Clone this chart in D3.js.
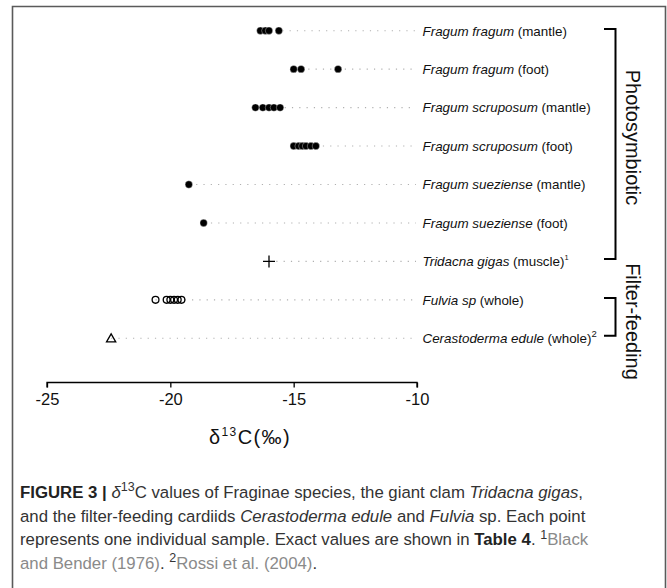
<!DOCTYPE html>
<html>
<head>
<meta charset="utf-8">
<script src="https://cdn.jsdelivr.net/npm/d3@7"></script>
<style>
  html, body { margin: 0; padding: 0; background: #fff; }
  svg { display: block; }
  text { font-family: "Liberation Sans", Arial, Helvetica, sans-serif; }
</style>
</head>
<body>
<svg id="chart" width="667" height="588"></svg>
<script>
// ---------- data ----------
const species = ["Fragum fragum", "Fragum fragum", "Fragum scruposum", "Fragum scruposum",
  "Fragum sueziense", "Fragum sueziense", "Tridacna gigas", "Fulvia sp", "Cerastoderma edule"];
const tissues = ["(mantle)", "(foot)", "(mantle)", "(foot)", "(mantle)", "(foot)", "(muscle)", "(whole)", "(whole)"];
const notes = ["", "", "", "", "", "", "1", "", "2"];
const shapes = ["dot", "dot", "dot", "dot", "dot", "dot", "plus", "ring", "triangle"];

const fragumFragumMantle = [-16.35, -16.15, -16.0, -15.6];
const fragumFragumFoot = [-15.0, -14.7, -13.2];
const fragumScruposumMantle = [-16.55, -16.25, -16.0, -15.8, -15.55];
const fragumScruposumFoot = [-15.0, -14.8, -14.65, -14.5, -14.3, -14.1];
const fragumSuezienseMantle = [-19.25];
const fragumSuezienseFoot = [-18.65];
const tridacnaGigasMuscle = [-16.0];
const fulviaWhole = [-20.6, -20.15, -20.0, -19.85, -19.7, -19.55];
const cerastodermaWhole = [-22.4];

const seriesValues = [fragumFragumMantle, fragumFragumFoot, fragumScruposumMantle, fragumScruposumFoot,
  fragumSuezienseMantle, fragumSuezienseFoot, tridacnaGigasMuscle, fulviaWhole, cerastodermaWhole];

const xTicks = [-25, -20, -15, -10];
const groups = [
  { name: "Photosymbiotic", from: 0, to: 6 },
  { name: "Filter-feeding", from: 7, to: 8 }
];

// ---------- layout ----------
const svg = d3.select("#chart");
const rows = d3.range(species.length);
const x = d3.scaleLinear().domain([-25, -10]).range([47, 417]);
const y = d3.scalePoint().domain(rows).range([30.7, 338.3]);
const axisY = 382.5;

// figure border
svg.append("path")
  .attr("d", "M12.5,588 L12.5,6.5 L665.5,6.5 L665.5,588")
  .attr("fill", "none").attr("stroke", "#5a5a5a").attr("stroke-width", 1.6);

// dotted guide lines
svg.append("g").selectAll("line").data(rows).join("line")
  .attr("x1", i => x(d3.min(seriesValues[i])))
  .attr("x2", 416)
  .attr("y1", i => y(i)).attr("y2", i => y(i))
  .attr("stroke", "#b0b0b0").attr("stroke-width", 1.1)
  .attr("stroke-dasharray", "1.2,6.1");

// points
const pts = [];
rows.forEach(i => seriesValues[i].forEach(v => pts.push({ row: i, v, shape: shapes[i] })));
const g = svg.append("g");
g.selectAll("circle.dot").data(pts.filter(d => d.shape === "dot")).join("circle")
  .attr("class", "dot")
  .attr("cx", d => x(d.v)).attr("cy", d => y(d.row)).attr("r", 3.7)
  .attr("fill", "#000").attr("stroke", "#fff").attr("stroke-width", 0.35);
g.selectAll("circle.ring").data(pts.filter(d => d.shape === "ring")).join("circle")
  .attr("class", "ring")
  .attr("cx", d => x(d.v)).attr("cy", d => y(d.row)).attr("r", 3.4)
  .attr("fill", "none").attr("stroke", "#000").attr("stroke-width", 1.3);
g.selectAll("path.plus").data(pts.filter(d => d.shape === "plus")).join("path")
  .attr("class", "plus")
  .attr("d", d => `M${x(d.v) - 6},${y(d.row)} h12 M${x(d.v)},${y(d.row) - 6} v12`)
  .attr("stroke", "#000").attr("stroke-width", 1.3).attr("fill", "none");
g.selectAll("path.tri").data(pts.filter(d => d.shape === "triangle")).join("path")
  .attr("class", "tri")
  .attr("d", d => { const cx = x(d.v), cy = y(d.row); return `M${cx - 4.6},${cy + 3.6} L${cx + 4.6},${cy + 3.6} L${cx},${cy - 4.4} Z`; })
  .attr("stroke", "#000").attr("stroke-width", 1.3).attr("fill", "none");

// row labels
const labels = svg.append("g").selectAll("text").data(rows).join("text")
  .attr("x", 422.5).attr("y", i => y(i) + 4.8)
  .attr("font-size", 13.4).attr("fill", "#111");
labels.append("tspan").attr("font-style", "italic").text(i => species[i]);
labels.append("tspan").text(i => " " + tissues[i]);
labels.filter(i => notes[i]).append("tspan")
  .attr("font-size", i => notes[i] === "1" ? 7.5 : 9.5).attr("dy", -6).text(i => notes[i]);

// x axis
const axis = d3.axisBottom(x).tickValues(xTicks).tickSize(5).tickPadding(6).tickFormat(d3.format("d"));
const ax = svg.append("g").attr("transform", `translate(0,${axisY})`).call(axis);
ax.select(".domain").attr("d", `M${x(-25)},5V0H${x(-10)}V5`).attr("stroke", "#000").attr("stroke-width", 1.3);
ax.selectAll(".tick line").attr("stroke", "#000").attr("stroke-width", 1.3);
ax.selectAll(".tick text").attr("font-size", 16.5).attr("fill", "#111")
  .attr("font-family", "'Liberation Sans', Arial, sans-serif")
  .text(d => String(d).replace("-", "-"));

// axis title
const title = svg.append("text").attr("x", 250).attr("y", 443.5).attr("text-anchor", "middle")
  .attr("font-size", 20).attr("letter-spacing", 1.4).attr("fill", "#111");
title.append("tspan").text("δ");
title.append("tspan").attr("font-size", 12).attr("dy", -8).text("13");
title.append("tspan").attr("dy", 8).text("C(‰)");

// group brackets
const bx = 615.5;
groups.forEach(gr => {
  const y1 = y(gr.from) - 1.8, y2 = y(gr.to) - 2.5;
  svg.append("path").attr("d", `M604,${y1} H${bx} V${y2} H604`)
    .attr("fill", "none").attr("stroke", "#000").attr("stroke-width", 2);
});
svg.append("text").attr("transform", "translate(625.5,137.5) rotate(90)")
  .attr("text-anchor", "middle").attr("font-size", 20).attr("fill", "#111").text(groups[0].name);
svg.append("text").attr("transform", "translate(625.5,321.5) rotate(90)")
  .attr("text-anchor", "middle").attr("font-size", 20).attr("fill", "#111").text(groups[1].name);

// caption
const cap = svg.append("g").attr("font-size", 16.8).attr("fill", "#333");
const linkColor = "#8a8a8a";
const capLines = [
  [["FIGURE 3 | ", "bold"], ["δ", "italic"], ["13", "sup"], ["C values of Fraginae species, the giant clam ", ""], ["Tridacna gigas", "italic"], [",", ""]],
  [["and the filter-feeding cardiids ", ""], ["Cerastoderma edule", "italic"], [" and ", ""], ["Fulvia", "italic"], [" sp. Each point", ""]],
  [["represents one individual sample. Exact values are shown in ", ""], ["Table 4", "bold"], [". ", ""], ["1", "sup"], ["Black", "link"]],
  [["and Bender (1976)", "link"], [". ", ""], ["2", "sup"], ["Rossi et al. (2004)", "link"], [".", ""]]
];
const capBase = [497.5, 521.5, 545, 568.5];
capLines.forEach((line, li) => {
  const t = cap.append("text").attr("x", 20).attr("y", capBase[li]);
  let raised = false;
  line.forEach(([txt, st]) => {
    const ts = t.append("tspan").text(txt);
    if (st === "bold") ts.attr("font-weight", "bold").attr("fill", "#222");
    if (st === "italic") ts.attr("font-style", "italic");
    if (st === "link") ts.attr("fill", linkColor);
    if (st === "sup") { ts.attr("font-size", 12.5).attr("dy", -6.5); raised = true; }
    else if (raised) { ts.attr("dy", 6.5); raised = false; }
  });
});
</script>
</body>
</html>
